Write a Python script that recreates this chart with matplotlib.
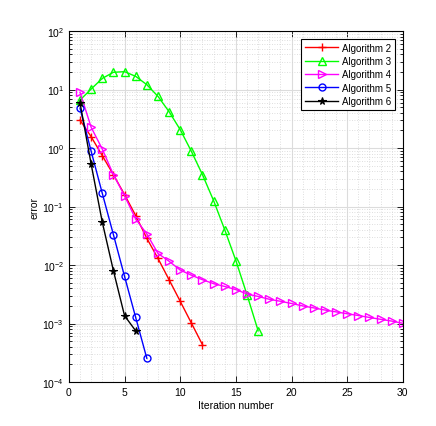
import matplotlib
matplotlib.use("Agg")
import matplotlib.pyplot as plt
from matplotlib.ticker import FixedLocator, NullFormatter, LogFormatterSciNotation

plt.rcParams['font.family'] = ['Liberation Sans', 'DejaVu Sans']
plt.rcParams['mathtext.fontset'] = 'custom'
plt.rcParams['mathtext.rm'] = 'Liberation Sans'

labels = ["Algorithm 2", "Algorithm 3", "Algorithm 4", "Algorithm 5", "Algorithm 6"]

x2 = list(range(1, 13))
y2 = [3.0, 1.56, 0.74, 0.35, 0.16, 0.07, 0.0286, 0.013, 0.0056, 0.0024, 0.00102, 0.000434]

x3 = list(range(1, 18))
y3 = [6.6, 10.2, 15.5, 19.7, 20.2, 16.8, 12.1, 7.65, 4.18, 2.06, 0.88, 0.35,
      0.126, 0.040, 0.0119, 0.0031, 0.00075]

x4 = list(range(1, 31))
y4 = [8.96, 2.26, 0.96, 0.35, 0.153, 0.061, 0.034, 0.0158, 0.0116, 0.0082,
      0.0067, 0.0056, 0.0048, 0.0043, 0.0038, 0.0032, 0.0029, 0.0026, 0.0024,
      0.0022, 0.0020, 0.00185, 0.0017, 0.00158, 0.00147, 0.00137, 0.00127,
      0.00118, 0.0011, 0.00101]

x5 = list(range(1, 8))
y5 = [4.8, 0.88, 0.168, 0.033, 0.0064, 0.00127, 0.000254]

x6 = list(range(1, 7))
y6 = [5.9, 0.53, 0.054, 0.008, 0.00136, 0.00075]

xticks = [0, 5, 10, 15, 20, 25, 30]
yticks = [1e-4, 1e-3, 1e-2, 1e-1, 1e0, 1e1, 1e2]

fig = plt.figure(figsize=(4.36, 4.27), dpi=100)
ax = fig.add_axes([0.158, 0.103, 0.766, 0.822])

lw = 1.0
ax.plot(x2, y2, color='#ff0000', marker='+', ms=6, mew=1.0, lw=lw, label=labels[0])
ax.plot(x3, y3, color='#00ff00', marker='^', ms=5.5, mfc='none', mew=1.0, lw=lw, label=labels[1])
ax.plot(x4, y4, color='#ff00ff', marker='>', ms=5.5, mfc='none', mew=1.0, lw=lw, label=labels[2])
ax.plot(x5, y5, color='#0000ff', marker='o', ms=5, mfc='none', mew=1.0, lw=lw, label=labels[3])
ax.plot(x6, y6, color='#000000', marker='*', ms=5.5, mew=0.8, lw=lw, label=labels[4])

ax.set_yscale('log')
ax.set_xlim(0, 30)
ax.set_ylim(1e-4, 1e2)
ax.xaxis.set_major_locator(FixedLocator(xticks))
ax.xaxis.set_minor_locator(FixedLocator([i for i in range(0, 31)]))
ax.xaxis.set_minor_formatter(NullFormatter())
ax.yaxis.set_major_locator(FixedLocator(yticks))
ax.yaxis.set_major_formatter(LogFormatterSciNotation())
minor_y = [m * 10.0 ** e for e in range(-4, 2) for m in range(2, 10)]
ax.yaxis.set_minor_locator(FixedLocator(minor_y))
ax.yaxis.set_minor_formatter(NullFormatter())

ax.grid(True, which='major', color='#dcdcdc', lw=0.8, ls='-')
ax.grid(True, which='minor', color='#d4d4d4', lw=0.6, ls=(0, (1, 2)))
ax.set_axisbelow(True)

ax.tick_params(which='both', direction='in', top=True, right=True, labelsize=7.5, width=0.6)
ax.tick_params(which='major', length=4)
ax.tick_params(which='minor', length=2)
ax.tick_params(axis='x', which='minor', length=0)
for s in ax.spines.values():
    s.set_linewidth(0.8)

ax.set_xlabel('Iteration number', fontsize=7.5, labelpad=2)
ax.set_ylabel('error', fontsize=7.5, labelpad=2)

leg = ax.legend(loc='upper right', fontsize=7, fancybox=False, framealpha=1,
                edgecolor='black', borderaxespad=0.8, handlelength=3.4,
                labelspacing=0.35, borderpad=0.4, handletextpad=0.4)
leg.get_frame().set_linewidth(0.8)

fig.savefig('out.png', dpi=100)
